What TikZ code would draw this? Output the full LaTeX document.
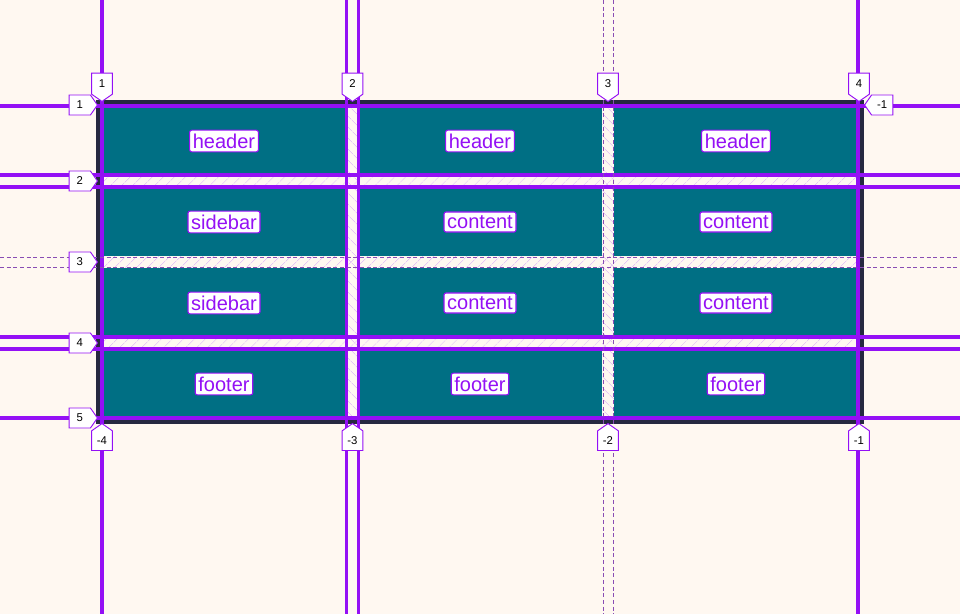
\documentclass[tikz,border=0pt]{standalone}
\usepackage{fontspec}
\setmainfont{Liberation Sans}
\usetikzlibrary{patterns.meta,shapes.symbols}
\definecolor{Cream}{HTML}{FFF8F1}
\definecolor{Slate}{HTML}{262840}
\definecolor{Cell}{HTML}{006F84}
\definecolor{Grape}{HTML}{9410F5}
\definecolor{Lilac}{HTML}{E6C6F4}
\tikzset{
  area/.style={fill=Cell, draw=none},
  areaname/.style={
    rounded corners=1.5pt, draw=Grape, fill=white, text=Grape, line width=0.8pt,
    inner xsep=2.4pt, inner ysep=2.6pt, font=\fontsize{15}{16}\selectfont
  },
  gridline/.style={draw=Grape, line width=2.5pt},
  gapline/.style={draw=Grape!45!gray, line width=0.6pt, dash pattern=on 3pt off 2pt},
  colgap/.style={pattern={Lines[angle=-45,distance=6.5pt,line width=0.6pt]}, pattern color=Lilac},
  rowgap/.style={pattern={Lines[angle=45,distance=6.5pt,line width=0.6pt]}, pattern color=Lilac},
  tag/.style={
    signal, signal from=nowhere, signal pointer angle=110, draw=Grape, fill=white,
    line width=0.7pt, inner sep=0pt, font=\fontsize{8.5}{9}\selectfont
  },
  toptag/.style={tag, signal to=south, anchor=south, minimum width=15.5pt, minimum height=17.4pt},
  bottag/.style={tag, signal to=north, anchor=north, minimum width=15.5pt, minimum height=17.4pt},
  lefttag/.style={tag, signal to=east, anchor=east, minimum width=21.2pt, minimum height=15pt},
  righttag/.style={tag, signal to=west, anchor=west, minimum width=21.2pt, minimum height=15pt}
}
\begin{document}
\begin{tikzpicture}[x=0.75pt,y=-0.75pt]
    \fill[Cream] (0,0) rectangle (960,614);
    \useasboundingbox (0,0) rectangle (960,614);
    \fill[Slate] (96,100) rectangle (864,424);
    \fill[Cream] (102,106) rectangle (858,418);
    \fill[colgap] (346,106) rectangle (358,418); \fill[colgap] (602,106) rectangle (614,418);
    \fill[rowgap] (102,175) rectangle (858,187); \fill[rowgap] (102,256) rectangle (858,268);
    \fill[rowgap] (102,337) rectangle (858,349);
    \foreach \cx in {102,358,614}
      \foreach \cy in {106,187,268,349}
        \fill[area] (\cx,\cy) rectangle ++(244,69);

    \foreach \gx in {102,346.5,358.5,858} \draw[gridline] (\gx,0) -- (\gx,614);
    \foreach \gy in {106,175,187,337,349,418} \draw[gridline] (0,\gy) -- (960,\gy);
    \foreach \gx in {603,613} \draw[gapline] (\gx,0) -- (\gx,614);
    \foreach \gy in {257,267} \draw[gapline] (0,\gy) -- (960,\gy);

    \node[areaname] (head1) at (224,141) {header}; \node[areaname] (head2) at (480,141) {header};
    \node[areaname] (head3) at (736,141) {header};
    \node[areaname] (side1) at (224,222) {sidebar}; \node[areaname] (main1) at (480,222) {content};
    \node[areaname] (main2) at (736,222) {content};
    \node[areaname] (side2) at (224,303) {sidebar}; \node[areaname] (main3) at (480,303) {content};
    \node[areaname] (main4) at (736,303) {content};
    \node[areaname] (foot1) at (224,384) {footer}; \node[areaname] (foot2) at (480,384) {footer};
    \node[areaname] (foot3) at (736,384) {footer};

    \node[toptag] (col1) at (102,102) {1}; \node[toptag] (col2) at (352.5,102) {2};
    \node[toptag] (col3) at (608,102) {3}; \node[toptag] (col4) at (859,102) {4};
    \node[bottag] (ncol4) at (102,423) {-4}; \node[bottag] (ncol3) at (352.5,423) {-3};
    \node[bottag] (ncol2) at (608,423) {-2}; \node[bottag] (ncol1) at (859,423) {-1};
    \node[lefttag] (row1) at (98,105) {1}; \node[lefttag] (row2) at (98,181) {2};
    \node[lefttag] (row3) at (98,262) {3}; \node[lefttag] (row4) at (98,343) {4};
    \node[lefttag] (row5) at (98,418) {5};
    \node[righttag] (nrow1) at (864,105) {-1};
  \end{tikzpicture}
\end{document}
